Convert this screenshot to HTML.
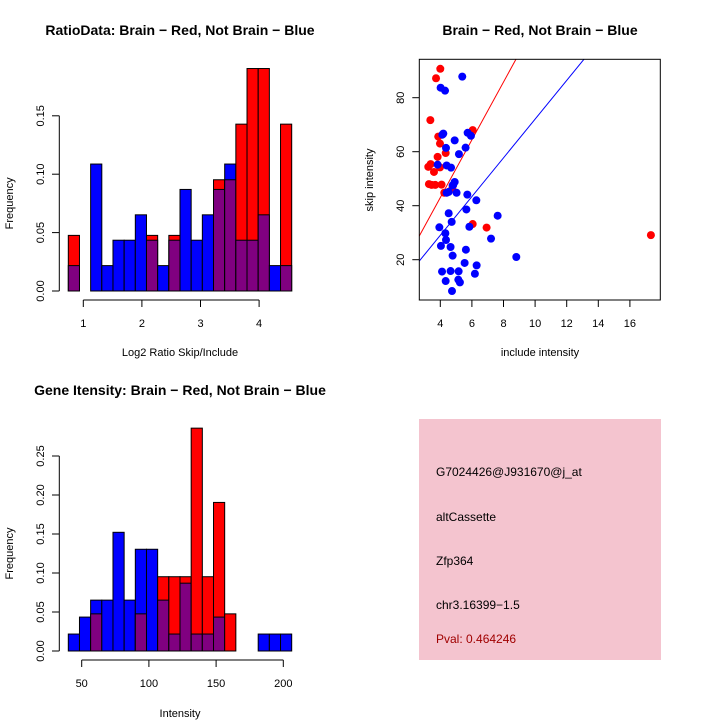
<!DOCTYPE html>
<html><head><meta charset="utf-8"><style>
body{margin:0;background:#fff;}
svg{display:block;font-family:"Liberation Sans",sans-serif;}
</style></head><body>
<svg id="chart" width="720" height="720" viewBox="0 0 720 720">
<rect width="720" height="720" fill="#fff"/>
<g id="p1"></g>
<g id="p2"></g>
<g id="p3"></g>
<g>
<rect x="419" y="419" width="242" height="241" fill="#f4c4cf"/>
<text x="436" y="476" font-size="12">G7024426@J931670@j_at</text>
<text x="436" y="521" font-size="12">altCassette</text>
<text x="436" y="565" font-size="12">Zfp364</text>
<text x="436" y="609" font-size="12">chr3.16399−1.5</text>
<text x="436" y="643" font-size="12" fill="#a00000">Pval: 0.464246</text>
</g>
</svg>
<script>
// Ratio histogram (counts per bin; red n=21, blue n=46)
const ratioRed  = [1,0,0,0,0,0,0,1,0,1,0,0,0,2,2,3,4,4,0,3];
const ratioBlue = [1,0,5,1,2,2,3,2,1,2,4,2,3,4,5,2,2,3,1,1];
const ratioXTicks = [1,2,3,4];
const ratioYTicks = ["0.00","0.05","0.10","0.15"];
// Intensity histogram
const intRed  = [0,0,1,0,0,0,1,0,2,2,2,6,2,4,1,0,0,0,0,0];
const intBlue = [1,2,3,3,7,3,6,6,3,1,4,1,1,2,0,0,0,1,1,1];
const intXTicks = [50,100,150,200];
const intYTicks = ["0.00","0.05","0.10","0.15","0.20","0.25"];
// Scatter
const redX = [4.00,3.73,3.37,3.87,3.98,3.83,4.34,3.39,3.24,3.98,3.60,3.28,3.45,3.68,4.08,4.76,4.25,6.05,6.05,6.93,17.33];
const redY = [90.7,87.2,71.7,65.6,63.0,58.1,59.5,55.4,54.4,54.2,52.5,48.0,47.7,47.7,47.8,46.4,44.8,68.0,33.2,31.9,29.1];
const blueX = [5.39,4.02,4.30,4.19,4.13,4.91,5.73,5.94,4.36,5.60,5.18,3.83,4.40,4.68,4.91,4.82,4.40,4.53,5.03,5.71,6.28,5.65,4.53,7.63,4.72,3.94,5.84,4.32,4.36,7.21,4.04,4.65,5.62,4.78,8.81,5.54,6.30,4.11,4.65,5.16,6.19,4.34,5.14,5.24,4.74,4.78];
const blueY = [87.8,83.7,82.6,66.7,66.3,64.2,67.0,65.9,61.4,61.5,59.1,55.2,54.9,54.1,48.8,47.7,44.8,45.1,44.8,44.1,42.0,38.6,37.2,36.3,34.0,32.0,32.2,29.8,27.3,27.8,25.1,24.7,23.7,21.5,21.0,18.8,17.9,15.6,15.8,15.7,14.8,12.1,12.6,11.6,8.4,47.5];
const redFit = [0.2,10.7];
const blueFit = [0.36,7.17];
const scXTicks = [4,6,8,10,12,14,16];
const scYTicks = [20,40,60,80];

const NS="http://www.w3.org/2000/svg";
function mk(p,tag,a,txt){const e=document.createElementNS(NS,tag);for(const k in a)e.setAttribute(k,a[k]);if(txt!==undefined)e.textContent=txt;p.appendChild(e);return e;}

function hist(g,red,blue,nR,nB,x0,bw,y0,pxPerUnit,xTicks,xScale,yTicks,yStep,axisY,title,xlab,titleY,xlabY){
  const ys=v=>y0-v*pxPerUnit;
  for(let i=0;i<red.length;i++){
    const r=red[i]/nR,b=blue[i]/nB,x=x0+i*bw;
    const hi=Math.max(r,b),lo=Math.min(r,b);
    if(hi>0){
      const el=mk(g,'rect',{x:x,y:ys(hi),width:bw,height:hi*pxPerUnit,fill:r>b?'#ff0000':'#0000ff',stroke:'#000','stroke-width':1});
      
      
    }
    if(lo>0){
      const el=mk(g,'rect',{x:x,y:ys(lo),width:bw,height:lo*pxPerUnit,fill:'#800080',stroke:'#000','stroke-width':1});
      
      
    }
  }
  // y axis
  const top=ys((yTicks.length-1)*yStep);
  mk(g,'line',{x1:59.3,y1:y0,x2:59.3,y2:top,stroke:'#000'});
  yTicks.forEach((t,i)=>{const y=ys(i*yStep);mk(g,'line',{x1:52,y1:y,x2:59.3,y2:y,stroke:'#000'});
    const el=mk(g,'text',{x:0,y:0,'font-size':11,'text-anchor':'middle',transform:`translate(44,${y}) rotate(-90)`},t);
    
    });
  // x axis
  const xs=xTicks.map(xScale);
  mk(g,'line',{x1:xs[0],y1:axisY,x2:xs[xs.length-1],y2:axisY,stroke:'#000'});
  xTicks.forEach((t,i)=>{mk(g,'line',{x1:xs[i],y1:axisY,x2:xs[i],y2:axisY+7,stroke:'#000'});
    const el=mk(g,'text',{x:xs[i],y:axisY+27,'font-size':11,'text-anchor':'middle'},String(t));
    
    });
  let e=mk(g,'text',{x:180,y:titleY,'font-size':14,'font-weight':'bold','text-anchor':'middle'},title);
  
  e=mk(g,'text',{x:180,y:xlabY,'font-size':11,'text-anchor':'middle'},xlab);
  
  const ym=(y0+top)/2;
  e=mk(g,'text',{x:0,y:0,'font-size':11,'text-anchor':'middle',transform:`translate(13,${ym}) rotate(-90)`},'Frequency');
  
}
hist(document.getElementById('p1'),ratioRed,ratioBlue,21,46,68.3,11.17,291,58.4/0.05,ratioXTicks,v=>83.3+(v-1)*58.6,ratioYTicks,0.05,300,
  'RatioData: Brain − Red, Not Brain − Blue','Log2 Ratio Skip/Include',35,356);
hist(document.getElementById('p3'),intRed,intBlue,21,46,68.3,11.17,651,39/0.05,intXTicks,v=>81.7+(v-50)*1.344,intYTicks,0.05,660,
  'Gene Itensity: Brain − Red, Not Brain − Blue','Intensity',395,717);

// scatter
(function(){
  const g=document.getElementById('p2');
  const L=419.3,R=660.3,T=59.3,B=300;
  const xs=v=>440.3+(v-4)*15.8, ys=v=>259.7-(v-20)*2.7;
  const xmin=2.67,xmax=17.92;
  const clip=mk(mk(g,'defs',{}),'clipPath',{id:'sc'});mk(clip,'rect',{x:L,y:T,width:R-L,height:B-T});
  [[redFit,'#ff0000','red-fit-line'],[blueFit,'#0000ff','blue-fit-line']].forEach(([f,c,n])=>{
    const el=mk(g,'line',{x1:xs(xmin),y1:ys(f[0]+f[1]*xmin),x2:xs(xmax),y2:ys(f[0]+f[1]*xmax),stroke:c,'stroke-width':1,'clip-path':'url(#sc)'});
    
  });
  redX.forEach((x,i)=>{const el=mk(g,'circle',{cx:xs(x),cy:ys(redY[i]),r:4,fill:'#ff0000'});
    });
  blueX.forEach((x,i)=>{const el=mk(g,'circle',{cx:xs(x),cy:ys(blueY[i]),r:4,fill:'#0000ff'});
    });
  mk(g,'rect',{x:L,y:T,width:R-L,height:B-T,fill:'none',stroke:'#000'});
  scXTicks.forEach(t=>{const x=xs(t);mk(g,'line',{x1:x,y1:B,x2:x,y2:B+7,stroke:'#000'});
    const el=mk(g,'text',{x:x,y:B+27,'font-size':11,'text-anchor':'middle'},String(t));
    });
  scYTicks.forEach(t=>{const y=ys(t);mk(g,'line',{x1:L-7,y1:y,x2:L,y2:y,stroke:'#000'});
    const el=mk(g,'text',{x:0,y:0,'font-size':11,'text-anchor':'middle',transform:`translate(404,${y}) rotate(-90)`},String(t));
    });
  let e=mk(g,'text',{x:540,y:35,'font-size':14,'font-weight':'bold','text-anchor':'middle'},'Brain − Red, Not Brain − Blue');
  
  e=mk(g,'text',{x:540,y:356,'font-size':11,'text-anchor':'middle'},'include intensity');
  
  e=mk(g,'text',{x:0,y:0,'font-size':11,'text-anchor':'middle',transform:'translate(373,180) rotate(-90)'},'skip intensity');
  
})();
</script>
</body></html>
